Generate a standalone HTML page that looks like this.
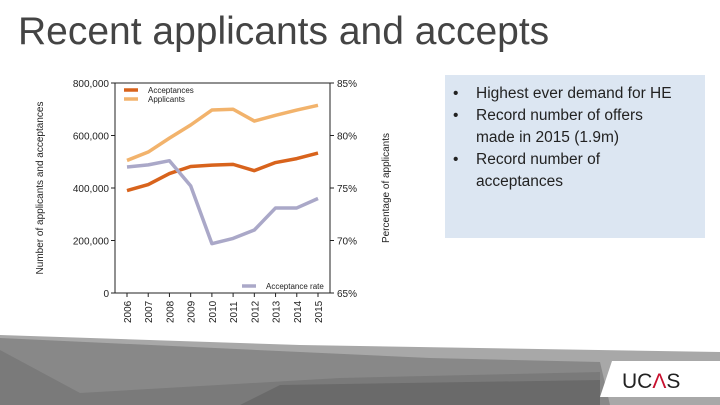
<!DOCTYPE html>
<html><head><meta charset="utf-8"><style>
body{margin:0;width:720px;height:405px;overflow:hidden;background:#fff;font-family:"Liberation Sans",sans-serif;position:relative}
#title{position:absolute;left:18px;top:10px;font-size:39px;color:#444;font-family:"Liberation Sans",sans-serif}
#box{position:absolute;left:445px;top:75px;width:260px;height:163px;background:#dce6f2}
#box ul{margin:8px 0 0 0;padding:0 0 0 31px;width:203px;font-size:15.5px;color:#222;line-height:22px;list-style:none}
#box li{position:relative}
#box li:before{content:"•";position:absolute;left:-23px}
</style></head><body>
<div id="title">Recent applicants and accepts</div>
<div id="box"><ul>
<li style="white-space:nowrap">Highest ever demand for HE</li>
<li>Record number of offers made in 2015 (1.9m)</li>
<li>Record number of acceptances</li></ul></div>
<svg id="chart" width="720" height="405" style="position:absolute;left:0;top:0">
<g id="footer">
<polygon points="0,335 300,345 720,352 720,405 0,405" fill="#a8a8a8"/>
<polygon points="0,338 430,358 600,362 610,405 0,405" fill="#888"/>
<polygon points="0,350 80,393 340,378 600,372 600,405 0,405" fill="#7a7a7a"/>
<polygon points="240,405 280,385 600,380 600,405" fill="#6a6a6a"/>
<polygon points="612,361 720,361 720,397 600,397" fill="#fff"/>
<text x="622" y="388" font-size="21" fill="#222" font-family="Liberation Sans">UC<tspan fill="#c8102e">Λ</tspan>S</text>
</g>
<g id="plot"></g>
</svg>
<script>
const years=["2006","2007","2008","2009","2010","2011","2012","2013","2014","2015"];
const acceptances=[390,413,455,482,487,490,466,497,512,533];
const applicants=[505,537,590,640,697,700,655,677,697,715];
const acceptanceRate=[77.0,77.2,77.6,75.2,69.7,70.2,71.0,73.1,73.1,74.0];
const leftTicks=[0,200,400,600,800];
const rightTicks=[65,70,75,80,85];
const NS="http://www.w3.org/2000/svg";
const g=document.getElementById('plot');
const X0=115,X1=330,Y0=293,Y1=83;
const xs=i=>127+i*(318-127)/(years.length-1);
const yl=v=>Y0-(v/800)*(Y0-Y1);
const yr=v=>Y0-((v-65)/20)*(Y0-Y1);
function el(t,a){const e=document.createElementNS(NS,t);for(const k in a)e.setAttribute(k,a[k]);g.appendChild(e);return e;}
let e;
e=el('rect',{x:X0,y:Y1,width:X1-X0,height:Y0-Y1,fill:'none',stroke:'#222','stroke-width':1});


leftTicks.forEach(v=>{
 e=el('line',{x1:X0-4,x2:X0,y1:yl(v),y2:yl(v),stroke:'#222'});
 
 
 e=el('text',{x:X0-6,y:yl(v)+4,'text-anchor':'end','font-size':10,fill:'#222'});
 e.textContent=v===0?'0':(v.toLocaleString('en-US')+',000');
 
 
});
rightTicks.forEach(v=>{
 e=el('line',{x1:X1,x2:X1+4,y1:yr(v),y2:yr(v),stroke:'#222'});
 
 
 e=el('text',{x:X1+7,y:yr(v)+4,'font-size':10,fill:'#222'});
 e.textContent=v+'%';
 
 
});
years.forEach((y,i)=>{
 e=el('line',{x1:xs(i),x2:xs(i),y1:Y0,y2:Y0+4,stroke:'#222'});
 
 
 e=el('text',{x:xs(i)+4,y:Y0+30,'font-size':10,fill:'#222',transform:`rotate(-90 ${xs(i)+4} ${Y0+30})`});
 e.textContent=y;
 
 
});
e=el('text',{x:43,y:188,'font-size':10,fill:'#222','text-anchor':'middle',transform:'rotate(-90 43 188)'});
e.textContent='Number of applicants and acceptances';


e=el('text',{x:389,y:188,'font-size':10,fill:'#222','text-anchor':'middle',transform:'rotate(-90 389 188)'});
e.textContent='Percentage of applicants';


function line(data,fy,color,name){
 const p=el('polyline',{points:data.map((v,i)=>xs(i)+','+fy(v)).join(' '),fill:'none',stroke:color,'stroke-width':3.5,'stroke-linejoin':'round'});
 
 
}
line(applicants,yl,'#f2b36c','applicants-line');
line(acceptances,yl,'#d8631c','acceptances-line');
line(acceptanceRate,yr,'#aaa8c8','acceptance-rate-line');
function leg(x,y,color,label,name){
 e=el('line',{x1:x,x2:x+14,y1:y,y2:y,stroke:color,'stroke-width':3.5});
 
 
 e=el('text',{x:x+24,y:y+3,'font-size':8,fill:'#222'});
 e.textContent=label;
 
 
}
leg(124,90,'#d8631c','Acceptances','legend-acceptances');
leg(124,99,'#f2b36c','Applicants','legend-applicants');
leg(242,286,'#aaa8c8','Acceptance rate','legend-acceptance-rate');
</script>
</body></html>
